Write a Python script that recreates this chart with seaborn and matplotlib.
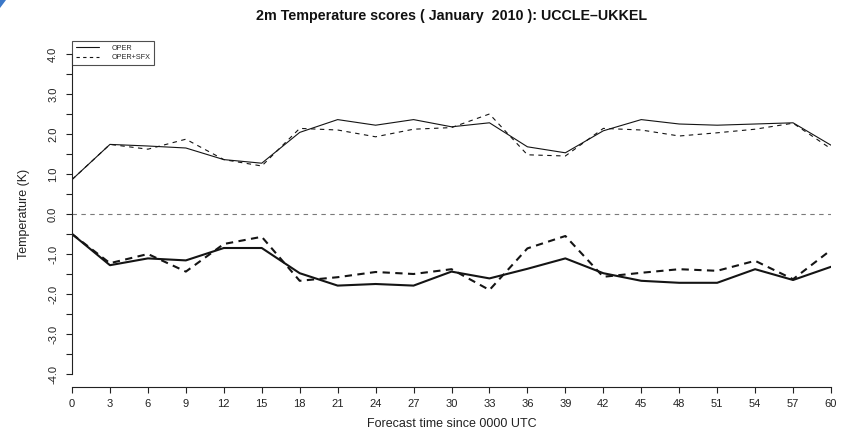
import numpy as np
import pandas as pd
import matplotlib
matplotlib.use("Agg")
import matplotlib.pyplot as plt
from matplotlib.lines import Line2D
from matplotlib.patches import Polygon
import seaborn as sns

# Forecast lead times (hours since 0000 UTC)
hours = list(range(0, 61, 3))

# Upper curves (RMSE) and lower curves (bias) for the two runs
rmse_oper = [0.86, 1.74, 1.70, 1.65, 1.36, 1.27, 2.04, 2.36, 2.22, 2.36, 2.18,
             2.28, 1.68, 1.53, 2.08, 2.36, 2.25, 2.22, 2.25, 2.28, 1.72]
rmse_sfx = [0.86, 1.74, 1.62, 1.87, 1.36, 1.20, 2.14, 2.10, 1.93, 2.12, 2.16,
            2.50, 1.48, 1.45, 2.14, 2.10, 1.95, 2.03, 2.12, 2.27, 1.63]
bias_oper = [-0.50, -1.28, -1.11, -1.16, -0.85, -0.85, -1.48, -1.79, -1.75, -1.79, -1.44,
             -1.61, -1.37, -1.11, -1.48, -1.67, -1.72, -1.72, -1.38, -1.65, -1.32]
bias_sfx = [-0.50, -1.23, -1.00, -1.44, -0.75, -0.57, -1.67, -1.58, -1.45, -1.50, -1.38,
            -1.90, -0.86, -0.55, -1.57, -1.47, -1.38, -1.42, -1.17, -1.63, -0.90]

series_names = ["OPER", "OPER+SFX"]
y_ticks = [-4.0, -3.0, -2.0, -1.0, 0.0, 1.0, 2.0, 3.0, 4.0]

sns.set_theme(style="white")
plt.rcParams["font.family"] = ["Liberation Sans", "DejaVu Sans"]
plt.rcParams["axes.unicode_minus"] = False

fig = plt.figure(figsize=(8.5, 4.32), dpi=100)
ax = fig.add_axes([72 / 850, 1 - 386.8 / 432, (831 - 72) / 850, (386.8 - 41.2) / 432])

df = pd.DataFrame({"hour": hours, "rmse_oper": rmse_oper, "rmse_sfx": rmse_sfx,
                   "bias_oper": bias_oper, "bias_sfx": bias_sfx})

ink = "#141414"
thin_dash = (0, (4, 4))
thick_dash = (0, (3.5, 2.6))

sns.lineplot(data=df, x="hour", y="rmse_oper", ax=ax, color=ink, lw=0.8, linestyle="-")
sns.lineplot(data=df, x="hour", y="rmse_sfx", ax=ax, color=ink, lw=0.8, linestyle=thin_dash)
sns.lineplot(data=df, x="hour", y="bias_oper", ax=ax, color=ink, lw=1.5, linestyle="-")
sns.lineplot(data=df, x="hour", y="bias_sfx", ax=ax, color=ink, lw=1.5, linestyle=thick_dash)

ax.axhline(0.0, color="#7a7a7a", lw=0.8, linestyle=(0, (4, 4)))

ax.set_xlim(0, 60)
ax.set_ylim(-4.32, 4.32)

for side in ("top", "right"):
    ax.spines[side].set_visible(False)
ax.spines["left"].set_bounds(-4, 4)
ax.spines["bottom"].set_bounds(0, 60)
for side in ("left", "bottom"):
    ax.spines[side].set_color("#222222")
    ax.spines[side].set_linewidth(0.8)

ax.set_xticks(hours)
ax.set_xticklabels([str(h) for h in hours])
ax.set_yticks(y_ticks)
ax.set_yticklabels([f"{v:.1f}" for v in y_ticks], rotation=90, va="center")
ax.set_yticks(np.arange(-3.5, 4.0, 1.0), minor=True)

ax.tick_params(axis="both", which="both", direction="out", length=4, width=0.8,
               color="#222222", labelsize=8, labelcolor="#222222")
ax.tick_params(axis="x", pad=5, bottom=True)
ax.tick_params(axis="y", pad=6, left=True)
ax.tick_params(axis="y", which="minor", left=True)

ax.set_xlabel("Forecast time since 0000 UTC", fontsize=9, color="#222222", labelpad=6.5)
ax.set_ylabel("Temperature (K)", fontsize=9, color="#222222", labelpad=13)
ax.set_title("2m Temperature scores ( January  2010 ): UCCLE\u2013UKKEL",
             fontsize=10.3, fontweight="bold", color="#111111", pad=15.5)

handles = [Line2D([], [], color=ink, lw=0.8, linestyle="-"),
           Line2D([], [], color=ink, lw=0.8, linestyle=(0, (3, 3)))]
leg = ax.legend(handles, series_names, loc="upper left", bbox_to_anchor=(0, 1),
                borderaxespad=0, fontsize=5.2, frameon=True, fancybox=False,
                handlelength=3.2, handletextpad=1.8, borderpad=0.5, labelspacing=0.35)
leg.get_frame().set_edgecolor("#222222")
leg.get_frame().set_linewidth(0.8)

# small blue corner mark at the top-left
fig.patches.append(Polygon([[0, 1], [6 / 850, 1], [0, 1 - 8 / 432]], closed=True,
                           transform=fig.transFigure, facecolor="#3c78c8", edgecolor="none"))

fig.savefig("out.png", dpi=100)
